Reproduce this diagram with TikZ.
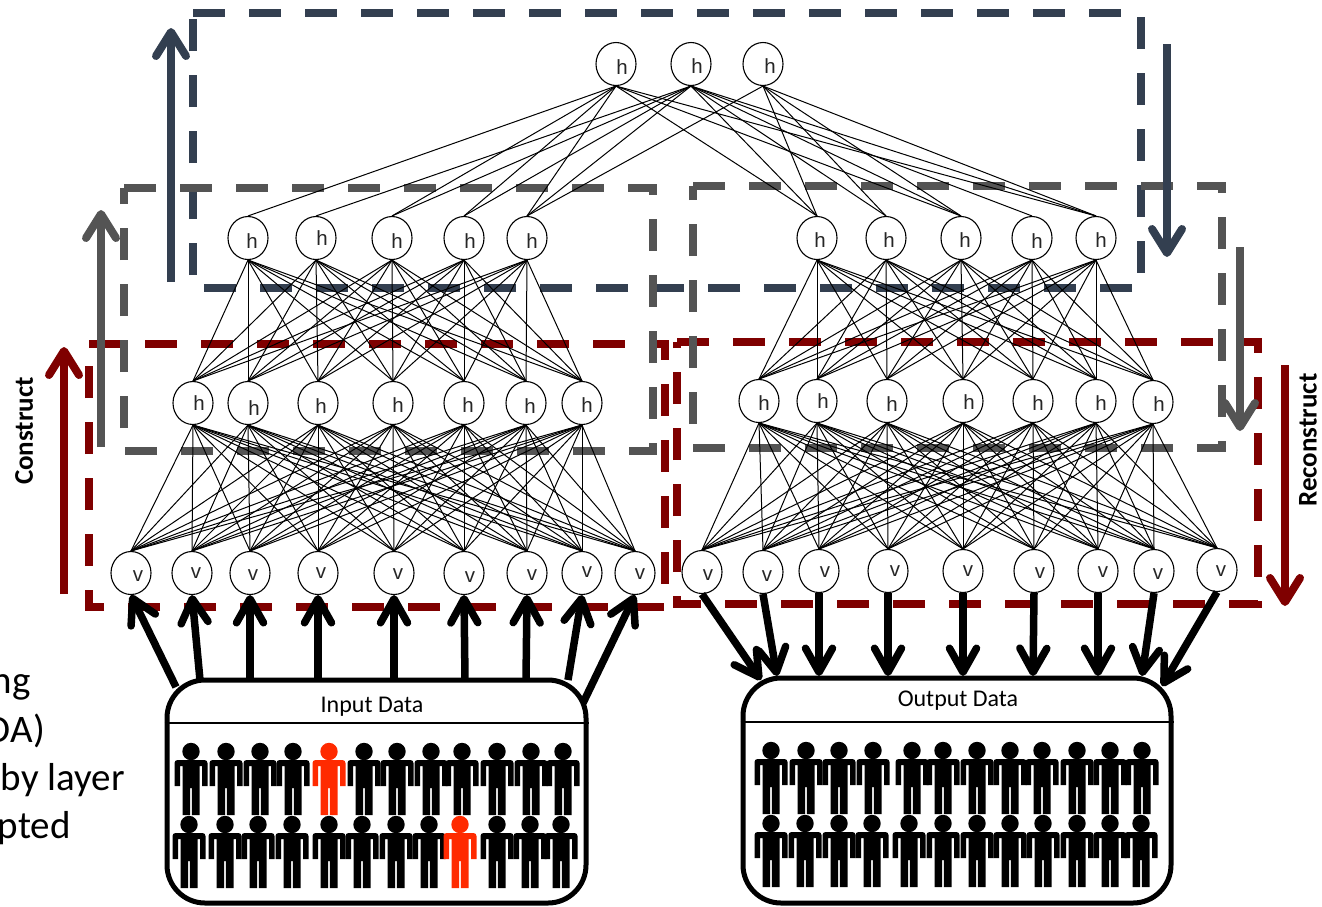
\documentclass[tikz,border=0pt]{standalone}
\usepackage{fontspec}
\usetikzlibrary{arrows.meta,shapes.geometric}
\setmainfont{Carlito}
\newfontfamily\unitfont{Liberation Sans}
\definecolor{n}{HTML}{333F50}
\definecolor{g}{HTML}{545454}
\definecolor{r}{HTML}{7F0000}
\definecolor{o}{HTML}{FF2A00}
\newcommand{\unitrow}[3]{\foreach \n/\x/\y/\dx/\dy in {#3}
  \node[neuron,label={[neuronlabel,xshift=\dx pt,yshift=-\dy pt]center:#2}] (#1\n) at (\x,\y) {};}
\newcommand{\fullmesh}[4]{\foreach \a in {1,...,#2} \foreach \b in {1,...,#4}
  \draw[edge] (#1\a.south) -- (#3\b.north);}

\begin{document}
\begin{tikzpicture}[x=1pt,y=-1pt,
  neuron/.style={draw=black,line width=1.1pt,fill=white,ellipse,inner sep=0pt,minimum width=40pt,minimum height=43pt},
  neuronlabel/.style={font=\unitfont\fontsize{20.5}{20.5}\selectfont,text=black!85,inner sep=0pt},
  edge/.style={draw=black,line width=1pt},
  stage/.style={line width=8pt,dash pattern=on 32pt off 24pt},
  bigarr/.style={line width=8pt,-{Straight Barb[length=24pt,width=30pt,round]}},
  dataarr/.style={line width=7.5pt,draw=black,-{Straight Barb[length=24pt,width=27pt,round]}},
  databox/.style={draw=black,line width=5pt,fill=white,rounded corners=38pt},
  databar/.style={draw=black,line width=2pt},
  datatext/.style={font=\fontsize{24}{24}\selectfont},
  sidetext/.style={font=\fontsize{39}{39}\selectfont,anchor=base east,inner sep=0pt},
  phase/.style={font=\bfseries\fontsize{27}{27}\selectfont,rotate=90,inner sep=0pt},
  pics/person/.style={code={
    \fill[#1] (0,8.5) circle[radius=8.7pt];
    \fill[#1,rounded corners=3pt] (-16.5,43) -- (-16.5,17) -- (16.5,17) [sharp corners] -- (16.5,43) -- (11,43)
      -- (11,23) -- (8.5,23) -- (8.5,72) -- (0.8,72) -- (0.8,45) -- (-0.8,45) -- (-0.8,72) -- (-8.5,72)
      -- (-8.5,23) -- (-11,23) -- (-11,43) -- cycle;}}]
  \useasboundingbox (0,0) rectangle (1322,906);
  % dashed stages
  \draw[stage,draw=r] (89,344) -- (665,344) -- (665,607) -- (89,607) -- cycle;
  \draw[stage,draw=r] (677,342) -- (1258,342) -- (1258,604) -- (677,604) -- cycle;
  \draw[stage,draw=n] (193,13) -- (1141,13) -- (1141,288) -- (193,288) -- cycle;
  \draw[stage,draw=g] (124,188) -- (653,188) -- (653,451) -- (124,451) -- cycle;
  \draw[stage,draw=g] (693,186) -- (1222,186) -- (1222,448) -- (693,448) -- cycle;
  % big arrows
  \foreach \col/\x/\a/\b in {r/64/594/347,r/1285/365/606,g/101/447/210,g/1240/247/431,n/171/282/28,n/1167/44/257}{
    \coordinate (from) at (\x,\a); \coordinate (to) at (\x,\b);
    \draw[bigarr,draw=\col] (from) -- (to);}
  \node[phase] (construct) at (24,431) {Construct};
  \node[phase] (reconstruct) at (1308,440) {Reconstruct};
  % cut off text on the left
  \node[sidetext] (side1) at (31,693) {ng};
  \node[sidetext] (side2) at (45,742) {DA)};
  \node[sidetext] (side3) at (125,790) {by layer};
  \node[sidetext] (side4) at (71,838) {pted};
  % units
  \unitrow{t}{h}{1/616/64/6/3,2/691/64/6/2,3/763/64/7/2}
  \unitrow{a}{h}{1/248/238/4/3,2/316/238/6/0,3/392/238/5/3,4/464/238/6/3,5/527/238/5/3}
  \unitrow{b}{h}{1/193/403/6/0,2/248/403/6/5,3/318/403/3/3,4/393/403/5/2,5/464/403/4/2,6/526/403/4/3,7/582/403/5/2}
  \unitrow{v}{v}{1/131/573/7/3,2/192/573/4/0,3/250/573/3/2,4/318/573/3/0,5/394/573/4/1,6/464/573/6/4,7/527/573/5/2,8/582/573/5/-1,9/635/573/5/1}
  \unitrow{c}{h}{1/817/238/3/2,2/886/238/3/2,3/961/238/4/2,4/1032/238/5/3,5/1096/238/5/2}
  \unitrow{d}{h}{1/759/401/5/2,2/817/401/6/0,3/887/401/5/3,4/963/401/6/1,5/1033/401/5/2,6/1096/401/5/2,7/1153/402/6/2}
  \unitrow{w}{v}{1/702/572/6/3,2/763/572/4/4,3/819/571/6/1,4/888/571/7/0,5/963/571/5/0,6/1034/571/6/2,7/1098/571/5/1,8/1154/571/4/3,9/1217/570/4/1}
  % links
  \foreach \p/\q in {1/a1,1/a3,1/a4,1/a5,1/c1,1/c3,1/c5,2/a2,2/a3,2/a4,2/a5,2/c1,2/c2,2/c3,2/c4,2/c5,3/a5,3/c1,3/c2,3/c3,3/c5}
    \draw[edge] (t\p.south) -- (\q.north);
  \fullmesh{a}{5}{b}{7}
  \fullmesh{b}{7}{v}{9}
  \fullmesh{c}{5}{d}{7}
  \fullmesh{d}{7}{w}{9}
  % data boxes
  \node[databox,minimum width=419pt,minimum height=223pt] (input) at (376.5,791.5) {};
  \node[databox,minimum width=428pt,minimum height=225pt] (output) at (957,790.5) {};
  \coordinate (inbar) at (376,723); \coordinate (outbar) at (957,722);
  \draw[databar] (input.west |- inbar) -- (input.east |- inbar);
  \draw[databar] (output.west |- outbar) -- (output.east |- outbar);
  \node[datatext] (intext) at (372,707) {Input Data};
  \node[datatext] (outtext) at (958,701) {Output Data};
  \foreach \n/\x/\y in {1/176/687,2/200/680,3/250/680,4/318/680,5/394/680,6/465/680,7/526/680,8/568/680,9/583/703}{
    \coordinate (in\n) at (\x,\y);
    \draw[dataarr] (in\n) -- (v\n.south);}
  \foreach \n/\x/\y in {1/761/680,2/777/676,3/819/676,4/888/676,5/963/676,6/1033/676,7/1098/676,8/1142/676,9/1162/686}{
    \coordinate (out\n) at (\x,\y);
    \draw[dataarr] (w\n.south) -- (out\n);}
  % people
  \foreach \x in {191,226,260,293,364,397,431,462,497,531,563} \pic at (\x,743) {person=black};
  \foreach \x in {189,225,258,292,329,362,396,429,497,530,561} \pic at (\x,816) {person=black};
  \pic at (329,743) {person=o};
  \pic at (460,816) {person=o};
  \foreach \x in {771,806,839,873,912,943,977,1010,1042,1077,1110,1142} \pic at (\x,742) {person=black};
  \foreach \x in {771,805,839,872,909,943,977,1010,1043,1077,1110,1141} \pic at (\x,815) {person=black};
\end{tikzpicture}
\end{document}
